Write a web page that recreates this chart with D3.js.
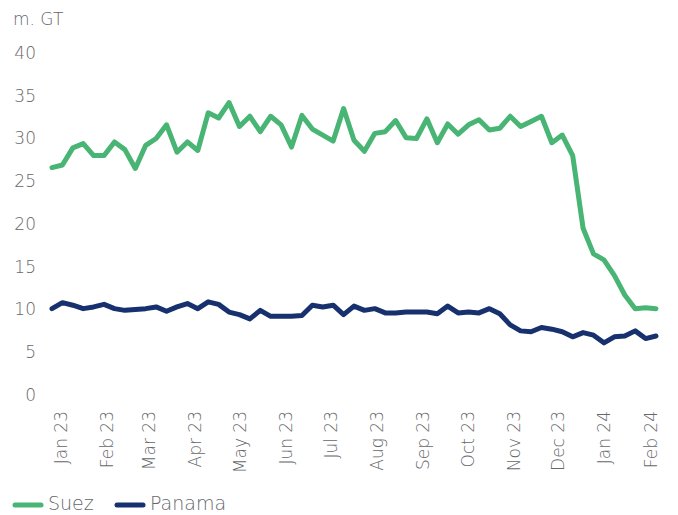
<!DOCTYPE html>
<html>
<head>
<meta charset="utf-8">
<script src="https://cdn.jsdelivr.net/npm/d3@7"></script>
<style>
  body { margin: 0; background: #fff; }
  svg text { font-family: "DejaVu Sans", sans-serif; font-weight: 200; fill: #66676a; }
</style>
</head>
<body>
<script>
// weekly observations, Mondays from late Dec 2022 to early Feb 2024
var weeks = d3.timeMonday.range(new Date(2022, 11, 26), new Date(2024, 1, 6));

var suez = [
  26.6, 26.9, 28.9, 29.4, 28.0, 28.0, 29.6, 28.7, 26.5, 29.2,
  30.0, 31.6, 28.4, 29.6, 28.6, 33.0, 32.4, 34.2, 31.4, 32.6,
  30.8, 32.6, 31.6, 29.0, 32.7, 31.1, 30.4, 29.7, 33.5, 29.8,
  28.5, 30.6, 30.8, 32.1, 30.1, 30.0, 32.3, 29.5, 31.7, 30.5,
  31.6, 32.2, 31.0, 31.2, 32.6, 31.4, 32.0, 32.6, 29.5, 30.4,
  28.0, 19.5, 16.5, 15.8, 14.0, 11.7, 10.1, 10.2, 10.1
];

var panama = [
  10.1, 10.8, 10.5, 10.1, 10.3, 10.6, 10.1, 9.9, 10.0, 10.1,
  10.3, 9.8, 10.3, 10.7, 10.1, 10.9, 10.6, 9.7, 9.4, 8.9,
  9.9, 9.2, 9.2, 9.2, 9.3, 10.5, 10.3, 10.5, 9.4, 10.4,
  9.9, 10.1, 9.6, 9.6, 9.7, 9.7, 9.7, 9.5, 10.4, 9.6,
  9.7, 9.6, 10.1, 9.5, 8.2, 7.5, 7.4, 7.9, 7.7, 7.4,
  6.8, 7.3, 7.0, 6.1, 6.8, 6.9, 7.5, 6.6, 6.9
];

var yTicks = [0, 5, 10, 15, 20, 25, 30, 35, 40];
var seriesNames = ["Suez", "Panama"];
var seriesColors = ["#48b574", "#17306e"];

var svg = d3.select("body").append("svg").attr("width", 678).attr("height", 515);

var x = d3
  .scaleTime()
  .domain([weeks[0], weeks[weeks.length - 1]])
  .range([52, 656]);

var y = d3.scaleLinear().domain([0, 40]).range([395, 53]);

svg
  .append("text")
  .attr("x", 13)
  .attr("y", 25)
  .style("font-size", "17px")
  .text("m. GT");

var yAxis = svg
  .append("g")
  .attr("transform", "translate(36,0)")
  .call(d3.axisLeft(y).tickValues(yTicks).tickSize(0).tickPadding(0));
yAxis.select(".domain").remove();
yAxis.selectAll("text").style("font-size", "17px").style("font-family", null).attr("fill", null);

var xAxis = svg
  .append("g")
  .attr("transform", "translate(0,403)")
  .call(
    d3
      .axisBottom(x)
      .ticks(d3.timeMonth.every(1))
      .tickSize(0)
      .tickFormat(d3.timeFormat("%b %y"))
  );
xAxis.select(".domain").remove();
xAxis
  .selectAll("text")
  .style("font-size", "17px")
  .style("font-family", null)
  .attr("fill", null)
  .attr("transform", "rotate(-90)")
  .attr("text-anchor", "end")
  .attr("x", -8)
  .attr("y", 0)
  .attr("dy", "0.35em");

var line = d3
  .line()
  .x((d, i) => x(weeks[i]))
  .y((d) => y(d));

[suez, panama].forEach((vals, i) => {
  svg
    .append("path")
    .datum(vals)
    .attr("d", line)
    .attr("fill", "none")
    .attr("stroke", seriesColors[i])
    .attr("stroke-width", 5)
    .attr("stroke-linejoin", "round")
    .attr("stroke-linecap", "round");
});

var legend = svg.append("g").attr("transform", "translate(0,505)");
var legendX = [15, 117];
seriesNames.forEach((name, i) => {
  legend
    .append("line")
    .attr("x1", legendX[i])
    .attr("x2", legendX[i] + 26)
    .attr("stroke", seriesColors[i])
    .attr("stroke-width", 5)
    .attr("stroke-linecap", "round");
  legend
    .append("text")
    .attr("x", legendX[i] + 33)
    .attr("y", 5)
    .style("font-size", "19px")
    .text(name);
});
</script>
</body>
</html>
